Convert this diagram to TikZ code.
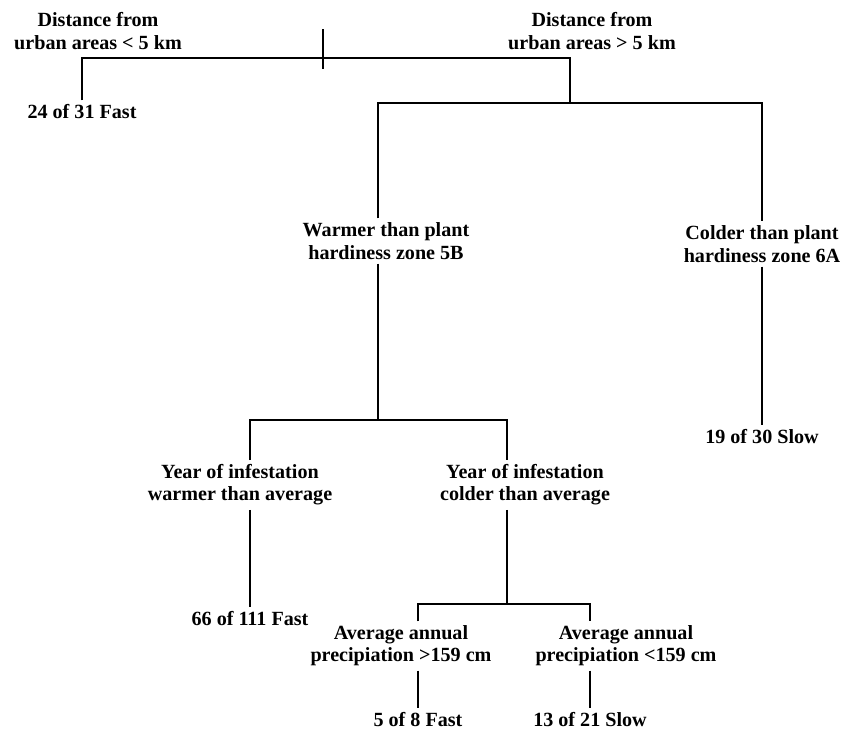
\documentclass[tikz,border=0pt]{standalone}
\usepackage{fontspec}
\setmainfont{Liberation Serif}
\usetikzlibrary{calc}

\begin{document}
\begin{tikzpicture}[x=0.85pt,y=-0.85pt,line width=1.5pt,
    lbl/.style={font=\fontsize{17.1}{18.9}\selectfont\bfseries,align=center,inner sep=3pt}]
  \useasboundingbox (0,0) rectangle (850,732);
  % split points
  \coordinate (rtop) at (323,29);
  \coordinate (rbot) at (323,69);
  \coordinate (s2) at (570,58);
  \coordinate (s2b) at (570,103);
  \coordinate (s3) at (378,420);
  \coordinate (s4) at (507,604);
  % labels
  \node[lbl] (near) at (98,31) {Distance from\\urban areas < 5 km};
  \node[lbl] (far) at (592,31) {Distance from\\urban areas > 5 km};
  \node[lbl] (fast1) at (82,112) {24 of 31 Fast};
  \node[lbl] (warm) at (386,241) {Warmer than plant\\hardiness zone 5B};
  \node[lbl] (cold) at (762,244) {Colder than plant\\hardiness zone 6A};
  \node[lbl] (slow1) at (762,437) {19 of 30 Slow};
  \node[lbl] (yw) at (240,485) {Year of infestation\\warmer than average};
  \node[lbl] (yc) at (525,485) {Year of infestation\\colder than average};
  \node[lbl] (fast2) at (250,619) {66 of 111 Fast};
  \node[lbl] (avgL) at (401,646) {Average annual\\precipiation >159 cm};
  \node[lbl] (avgR) at (626,646) {Average annual\\precipiation <159 cm};
  \node[lbl] (fast3) at (418,720) {5 of 8 Fast};
  \node[lbl] (slow3) at (590,720) {13 of 21 Slow};
  % tree
  \draw (rtop) -- (rbot);
  \draw (fast1.north) |- (s2) -- (s2b);
  \draw (warm.north -| s3) |- (s2b) -| (cold.north);
  \draw (cold.south) -- (slow1.north);
  \draw (warm.south -| s3) -- (s3);
  \draw (yw.north -| fast2.north) |- (s3) -| (yc.north -| s4);
  \draw (yw.south -| fast2.north) -- (fast2.north);
  \draw (yc.south -| s4) -- (s4);
  \draw (avgL.north -| fast3.north) |- (s4) -| (avgR.north -| slow3.north);
  \draw (avgL.south -| fast3.north) -- (fast3.north);
  \draw (avgR.south -| slow3.north) -- (slow3.north);
\end{tikzpicture}
\end{document}
